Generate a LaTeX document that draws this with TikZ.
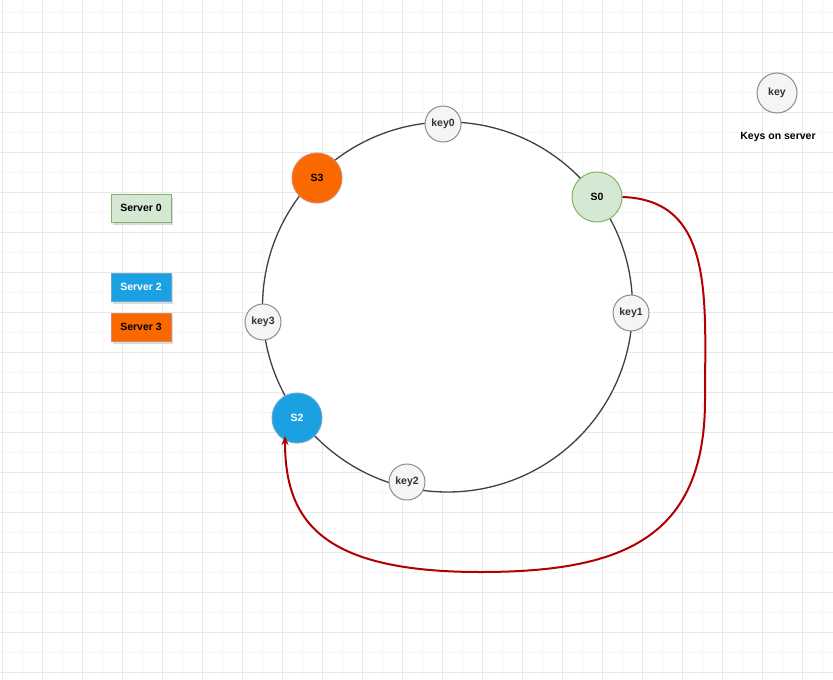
\documentclass[tikz,border=0pt]{standalone}
\usepackage{fontspec}
\setmainfont{Liberation Sans}
\usetikzlibrary{arrows.meta}
\definecolor{sgreen}{HTML}{D5E8D4}
\definecolor{sgreenb}{HTML}{82B366}
\definecolor{sblue}{HTML}{1BA1E2}
\definecolor{sblueb}{HTML}{006EAF}
\definecolor{sorange}{HTML}{FA6800}
\definecolor{sorangeb}{HTML}{C73500}
\definecolor{keyfill}{HTML}{F5F5F5}
\definecolor{darkred}{HTML}{B20000}
\tikzset{
 lbl/.style={font=\bfseries\fontsize{10.5}{12}\selectfont},
 keyn/.style={circle,draw=black!45,fill=keyfill,minimum size=36pt,inner sep=0pt,lbl,text=black!80,line width=1pt},
 srv/.style={circle,minimum size=50pt,inner sep=0pt,lbl,line width=1pt},
 leg/.style={rectangle,minimum width=60pt,minimum height=28pt,inner sep=0pt,lbl,line width=1pt},
}
\begin{document}
\begin{tikzpicture}[x=1pt,y=-1pt]
\useasboundingbox (0,0) rectangle (833,680);
\fill[white] (0,0) rectangle (833,680);
\foreach \x in {2,22,...,833} \draw[black!4,line width=0.6pt] (\x,0) -- (\x,680);
\foreach \y in {12,32,...,680} \draw[black!4,line width=0.6pt] (0,\y) -- (833,\y);
\foreach \x in {2,42,...,833} \draw[black!9,line width=0.6pt] (\x,0) -- (\x,680);
\foreach \y in {32,72,...,680} \draw[black!9,line width=0.6pt] (0,\y) -- (833,\y);
\node[circle,draw=black!75,fill=white,minimum size=370pt,inner sep=0pt,line width=1.3pt] (ring) at (447.5,307) {};
\node[keyn] (k0) at (443,124) {key0};
\node[keyn] (k1) at (631,313) {key1};
\node[keyn] (k2) at (407,482) {key2};
\node[keyn] (k3) at (263,322) {key3};
\node[srv,fill=sorange,draw=sorangeb!60,text=black] (s3) at (317,178) {S3};
\node[srv,fill=sgreen,draw=sgreenb] (s0) at (597,197) {S0};
\node[srv,fill=sblue,draw=sblueb!60,text=white] (s2) at (297,418) {S2};
\node[keyn,minimum size=40pt] (kl) at (777,93) {key};
\node[lbl,text=black] (kt) at (778,137) {Keys on server};
\fill[black!15] (113,197) rectangle (173,225);
\node[leg,fill=sgreen,draw=sgreenb] (l0) at (141,208) {Server 0};
\fill[black!15] (113,276) rectangle (173,304);
\node[leg,fill=sblue,draw=sblueb!60,text=white] (l2) at (141,287) {Server 2};
\fill[black!15] (113,316) rectangle (173,344);
\node[leg,fill=sorange,draw=sorangeb!60] (l3) at (141,327) {Server 3};
\coordinate (m1) at (705,400);
\coordinate (m2) at (480,572);
\draw[darkred,line width=2pt,-{Stealth[length=9pt,width=7pt]}]
 (s0.east) .. controls (715,200) and (705,300) .. (m1)
 .. controls (705,540) and (620,572) .. (m2)
 .. controls (320,572) and (285,520) .. (s2.south west -| 285,0);
\end{tikzpicture}
\end{document}
